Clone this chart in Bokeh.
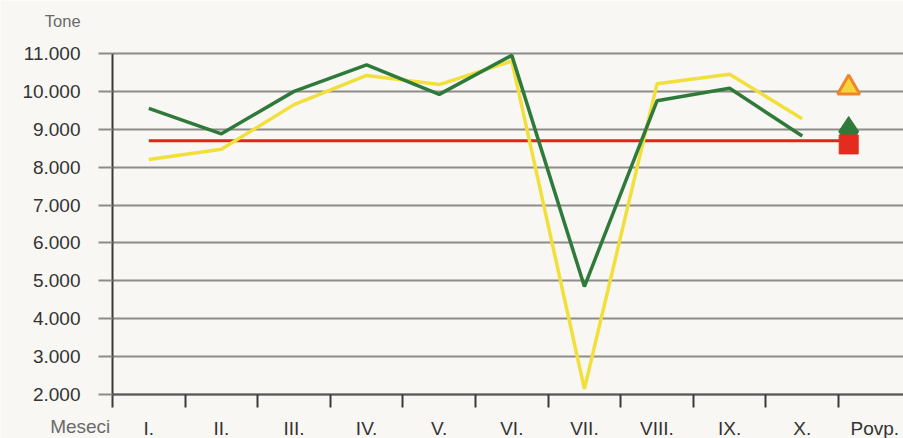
from bokeh.plotting import figure
from bokeh.models import FixedTicker, Label, Range1d
from bokeh.embed import file_html
from bokeh.resources import INLINE

# ---- data ----
months = ["I.", "II.", "III.", "IV.", "V.", "VI.", "VII.", "VIII.", "IX.", "X."]
avg_label = "Povp."
green_vals = [9550, 8880, 10000, 10700, 9920, 10950, 4850, 9750, 10080, 8820]
yellow_vals = [8200, 8470, 9650, 10420, 10180, 10800, 2150, 10200, 10450, 9280]
red_vals = [8700, 8700, 8700, 8700, 8700, 8700, 8700, 8700, 8700, 8700, 8700]
avg_triangle = 10100
avg_diamond = 8940
avg_square = 8600
y_ticks = [2000, 3000, 4000, 5000, 6000, 7000, 8000, 9000, 10000, 11000]
y_title = "Tone"
x_title = "Meseci"

# ---- positions derived from category order ----
cats = months + [avg_label]
centers = [i + 0.5 for i in range(len(cats))]
bounds = list(range(len(cats) + 1))
xs = centers[:len(months)]
avg_offset = -0.36
avg_x = centers[-1] + avg_offset
red_xs = xs + [avg_x]

X0, X1 = -1.5427, 10.895
Y0, Y1 = 839, 12398

BG = "#f8f7f3"
GRID = "#8e8c87"
FONT = "Liberation Sans"

p = figure(width=903, height=438, output_backend="svg", toolbar_location=None,
           x_range=Range1d(X0, X1), y_range=Range1d(Y0, Y1),
           min_border_left=0, min_border_right=0, min_border_top=0, min_border_bottom=0)
p.background_fill_color = BG
p.border_fill_color = BG
p.outline_line_color = None

# grid
p.xgrid.grid_line_color = None
p.ygrid.ticker = FixedTicker(ticks=y_ticks)
p.ygrid.grid_line_color = GRID
p.ygrid.grid_line_width = 2
p.ygrid.cross_bounds = (0, X1)

# y axis
ya = p.yaxis[0]
ya.fixed_location = 0
ya.ticker = FixedTicker(ticks=y_ticks, minor_ticks=[])
ya.bounds = (y_ticks[0], y_ticks[-1])
ya.major_label_overrides = {v: f"{v:,}".replace(",", ".") for v in y_ticks}
ya.axis_line_color = "#3a3a3a"
ya.axis_line_width = 2
ya.major_tick_out = 14
ya.major_tick_in = 0
ya.major_tick_line_color = GRID
ya.major_tick_line_width = 2
ya.minor_tick_line_color = None
ya.major_label_standoff = 18
ya.major_label_text_font = FONT
ya.major_label_text_font_size = "19px"
ya.major_label_text_color = "#333333"

# x axis
xa = p.xaxis[0]
xa.fixed_location = y_ticks[0]
xa.bounds = (0, X1)
xa.ticker = FixedTicker(ticks=centers, minor_ticks=bounds)
xa.major_label_overrides = {c: lab for c, lab in zip(centers, cats)}
xa.axis_line_color = "#5a5a5a"
xa.axis_line_width = 2
xa.major_tick_out = 0
xa.major_tick_in = 0
xa.major_tick_line_color = None
xa.minor_tick_out = 13
xa.minor_tick_in = 0
xa.minor_tick_line_color = "#3a3a3a"
xa.minor_tick_line_width = 2
xa.major_label_standoff = 10
xa.major_label_text_font = FONT
xa.major_label_text_font_size = "19px"
xa.major_label_text_color = "#333333"

# series
p.line(red_xs, red_vals, line_color="#e0261c", line_width=3)
p.line(xs, yellow_vals, line_color="#f1e03c", line_width=3.5)
p.line(xs, green_vals, line_color="#2f7a3b", line_width=3.5)

# average markers
p.scatter([avg_x], [avg_triangle], marker="triangle", size=22,
          fill_color="#f7d43c", line_color="#f0862a", line_width=3)
p.scatter([avg_x], [avg_diamond], marker="diamond", size=30,
          fill_color="#2f7a3b", line_color="#2f7a3b")
p.scatter([avg_x], [avg_square], marker="square", size=19,
          fill_color="#e32b1f", line_color="#e32b1f")

# titles
p.add_layout(Label(x=-0.44, y=11610, text=y_title, text_align="right",
                   text_font=FONT, text_font_size="16.5px", text_color="#6a6a6a"))
p.add_layout(Label(x=-0.03, y=890, text=x_title, text_align="right",
                   text_font=FONT, text_font_size="19px", text_color="#6a6a6a"))

open("out.html", "w").write(file_html(p, INLINE))
